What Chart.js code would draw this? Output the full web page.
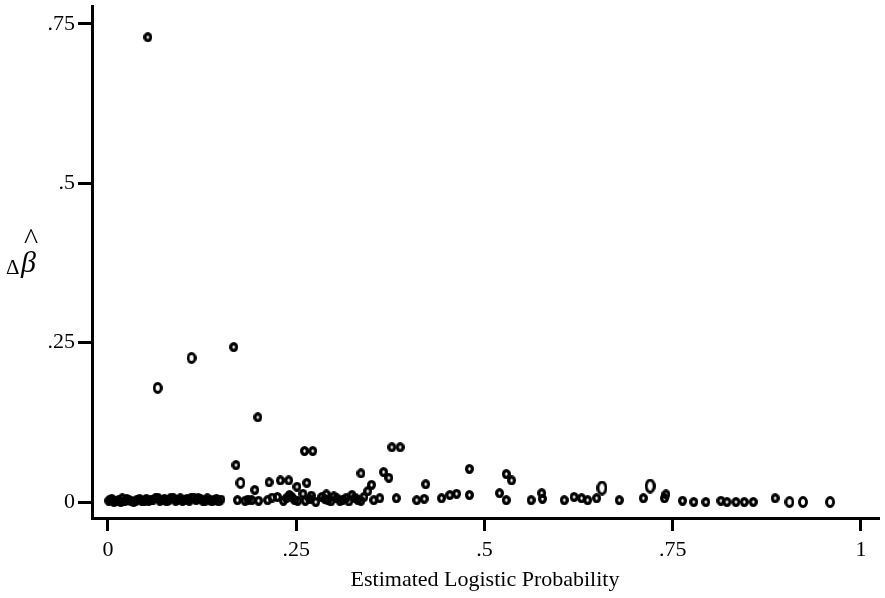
<!DOCTYPE html>
<html lang="en">
<head>
<meta charset="UTF-8">
<title>Delta beta vs estimated logistic probability</title>
<style>
body {
    margin: 0;
    background: white;
}
#wrap {
    width: 885px;
    height: 598px;
    position: relative;
}
</style>
</head>
<body>
<div id="wrap"><canvas id="chart"></canvas></div>

<script src="https://cdn.jsdelivr.net/npm/chart.js"></script>
<script>
// estimated logistic probability (x), delta-beta-hat (y), covariate pattern size
const probX = [
    // dense band near zero
    0.001, 0.005, 0.008, 0.014, 0.019, 0.022, 0.028, 0.034, 0.039, 0.045,
    0.051, 0.057, 0.063, 0.069, 0.075, 0.081, 0.087, 0.093, 0.099, 0.105,
    0.111, 0.117, 0.123, 0.129, 0.135, 0.141, 0.147,
    0.003, 0.011, 0.017, 0.025, 0.031, 0.037, 0.042, 0.048, 0.054, 0.060,
    0.066, 0.072, 0.078, 0.084, 0.090, 0.096, 0.102, 0.108, 0.114, 0.120,
    0.126, 0.132, 0.138, 0.144, 0.150,
    // raised points
    0.053, 0.066, 0.111, 0.167, 0.199, 0.170, 0.176, 0.195, 0.214, 0.229,
    0.240, 0.261, 0.272, 0.377, 0.388, 0.336, 0.366, 0.373, 0.480, 0.529,
    0.536, 0.422, 0.350, 0.264, 0.251, 0.656, 0.720,
    // bottom row
    0.172, 0.182, 0.191, 0.212, 0.225, 0.233, 0.241, 0.248, 0.244, 0.252,
    0.259, 0.268, 0.276, 0.284, 0.292, 0.300, 0.308, 0.316, 0.324, 0.332,
    0.340, 0.345, 0.353, 0.361, 0.383, 0.410, 0.420, 0.443, 0.454, 0.463,
    0.480, 0.520, 0.529, 0.562, 0.576, 0.577, 0.606, 0.619, 0.629, 0.637,
    0.649, 0.679, 0.711, 0.739, 0.741, 0.763, 0.778, 0.794, 0.814, 0.822,
    0.834, 0.845, 0.857, 0.886, 0.905, 0.923, 0.959,
    0.288, 0.296, 0.304, 0.312, 0.320, 0.328, 0.336, 0.290, 0.262, 0.270,
    0.237, 0.186, 0.200, 0.218
];
const deltaBeta = [
    0.002, 0.005, 0.000, 0.003, 0.006, 0.001, 0.003, 0.000, 0.004, 0.002,
    0.005, 0.003, 0.006, 0.002, 0.005, 0.003, 0.006, 0.004, 0.002, 0.005,
    0.007, 0.003, 0.005, 0.002, 0.004, 0.003, 0.001,
    0.004, 0.001, 0.000, 0.005, 0.001, 0.002, 0.005, 0.001, 0.002, 0.004,
    0.007, 0.004, 0.001, 0.007, 0.002, 0.006, 0.003, 0.002, 0.007, 0.006,
    0.002, 0.006, 0.001, 0.005, 0.004,
    0.729, 0.179, 0.226, 0.243, 0.133, 0.058, 0.030, 0.019, 0.031, 0.034,
    0.034, 0.080, 0.080, 0.086, 0.086, 0.045, 0.047, 0.038, 0.052, 0.044,
    0.034, 0.028, 0.027, 0.030, 0.024, 0.022, 0.025,
    0.003, 0.002, 0.003, 0.003, 0.008, 0.002, 0.011, 0.003, 0.008, 0.002,
    0.013, 0.005, 0.000, 0.008, 0.003, 0.009, 0.002, 0.006, 0.011, 0.003,
    0.008, 0.017, 0.003, 0.006, 0.006, 0.003, 0.005, 0.006, 0.011, 0.013,
    0.011, 0.014, 0.003, 0.003, 0.014, 0.005, 0.003, 0.008, 0.006, 0.003,
    0.006, 0.003, 0.006, 0.006, 0.012, 0.002, 0.000, 0.000, 0.002, 0.000,
    0.000, 0.000, 0.000, 0.006, 0.000, 0.000, 0.000,
    0.005, 0.001, 0.006, 0.004, 0.001, 0.007, 0.002, 0.012, 0.002, 0.010,
    0.006, 0.004, 0.002, 0.007
];
const patternCount = [
    1, 1, 1, 1, 1, 1, 1, 1, 1, 1,
    1, 1, 1, 1, 1, 1, 1, 1, 1, 1,
    1, 1, 1, 1, 1, 1, 1,
    1, 1, 1, 1, 1, 1, 1, 1, 1, 1,
    1, 1, 1, 1, 1, 1, 1, 1, 1, 1,
    1, 1, 1, 1, 1,
    1, 2, 2, 1, 1, 1, 2, 1, 1, 1,
    1, 1, 1, 1, 1, 1, 1, 1, 1, 1,
    1, 1, 1, 1, 1, 3, 3,
    1, 1, 1, 1, 1, 1, 1, 1, 1, 1,
    1, 1, 1, 1, 1, 1, 1, 1, 1, 1,
    1, 1, 1, 1, 1, 1, 1, 1, 1, 1,
    1, 1, 1, 1, 1, 1, 1, 1, 1, 1,
    1, 1, 1, 1, 1, 1, 1, 1, 1, 1,
    1, 1, 1, 1, 2, 2, 2,
    1, 1, 1, 1, 1, 1, 1, 1, 1, 1,
    1, 1, 1, 1
];
const xTicks = [0, 0.25, 0.5, 0.75, 1];
const yTicks = [0, 0.25, 0.5, 0.75];
const xTitle = 'Estimated Logistic Probability';

const SERIF = '"Liberation Serif", "DejaVu Serif", serif';

// open "o" markers, taller than wide like the printed glyph
function ring(w, h, lw) {
    const c = document.createElement('canvas');
    c.width = w;
    c.height = h;
    const g = c.getContext('2d');
    g.strokeStyle = '#000';
    g.lineWidth = lw;
    g.beginPath();
    g.ellipse(w / 2, h / 2, (w - lw) / 2, (h - lw) / 2, 0, 0, Math.PI * 2);
    g.stroke();
    return c;
}
const markers = {1: ring(9, 10, 3.3), 2: ring(10, 12, 3), 3: ring(11, 15, 3)};

function fmt(v) {
    if (v === 0) return '0';
    return String(v).replace(/^0/, '');
}

const yLabel = {
    id: 'yLabel',
    afterDraw(chart) {
        const ctx = chart.ctx;
        ctx.save();
        ctx.fillStyle = '#000';
        ctx.textAlign = 'left';
        ctx.textBaseline = 'alphabetic';
        ctx.font = '21px ' + SERIF;
        ctx.fillText('Δ', 6, 274);
        ctx.font = 'italic 30px ' + SERIF;
        ctx.fillText('β', 21, 272);
        ctx.font = '30px ' + SERIF;
        ctx.fillText('^', 24, 249);
        ctx.restore();
    }
};

const ctx = document.getElementById('chart').getContext('2d');
new Chart(ctx, {
    type: 'scatter',
    data: {
        datasets: [{
            data: probX.map((x, i) => ({x: x, y: deltaBeta[i]})),
            pointStyle: c => markers[patternCount[c.dataIndex]],
            pointRadius: 5,
            clip: false
        }]
    },
    options: {
        responsive: true,
        maintainAspectRatio: false,
        animation: false,
        layout: {padding: {left: 0, right: 7, top: 5, bottom: 0}},
        plugins: {
            legend: {display: false},
            tooltip: {enabled: false}
        },
        scales: {
            x: {
                type: 'linear',
                min: -0.0212,
                max: 1.0226,
                afterBuildTicks: s => { s.ticks = xTicks.map(v => ({value: v})); },
                afterFit: s => { s.height = 80; s.paddingLeft = 0; s.paddingRight = 0; },
                grid: {drawOnChartArea: false, drawTicks: true, tickLength: 13, lineWidth: 3, color: '#000'},
                border: {display: true, width: 3, color: '#000'},
                ticks: {
                    callback: v => fmt(v),
                    color: '#000',
                    padding: 6,
                    maxRotation: 0,
                    font: {family: SERIF, size: 22}
                },
                title: {
                    display: true,
                    text: xTitle,
                    color: '#000',
                    padding: {top: 0, bottom: 5},
                    font: {family: SERIF, size: 22}
                }
            },
            y: {
                type: 'linear',
                min: -0.025,
                max: 0.778,
                afterBuildTicks: s => { s.ticks = yTicks.map(v => ({value: v})); },
                afterFit: s => { s.width = 92; s.paddingTop = 0; s.paddingBottom = 0; },
                grid: {drawOnChartArea: false, drawTicks: true, tickLength: 14, lineWidth: 3, color: '#000'},
                border: {display: true, width: 3, color: '#000'},
                ticks: {
                    callback: v => fmt(v),
                    color: '#000',
                    padding: 3,
                    font: {family: SERIF, size: 22}
                }
            }
        }
    },
    plugins: [yLabel]
});
</script>
</body>
</html>
